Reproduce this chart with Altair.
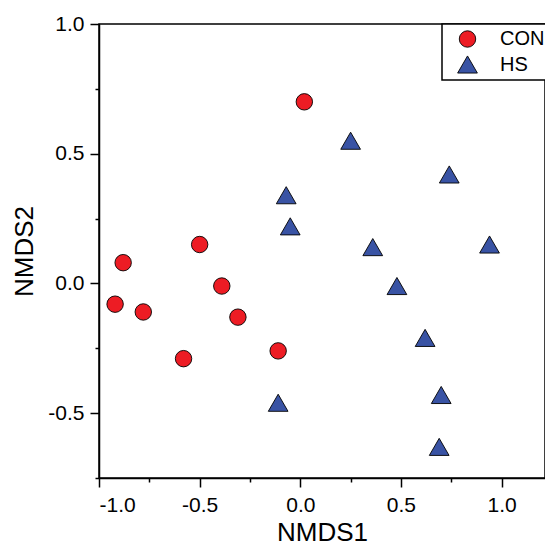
import altair as alt
import pandas as pd

con_x = [0.02, -0.88, -0.92, -0.78, -0.50, -0.39, -0.31, -0.58, -0.11]
con_y = [0.70, 0.08, -0.08, -0.11, 0.15, -0.01, -0.13, -0.29, -0.26]
hs_x = [0.25, 0.74, -0.07, -0.05, 0.36, 0.94, 0.48, 0.62, -0.11, 0.70, 0.69]
hs_y = [0.55, 0.42, 0.34, 0.22, 0.14, 0.15, -0.01, -0.21, -0.46, -0.43, -0.63]
groups = ["CON", "HS"]
colors = ["#ED1C24", "#3953A4"]
shapes = ["circle", "triangle-up"]
sizes = [270, 390]
x_ticks = [-1.0, -0.75, -0.5, -0.25, 0.0, 0.25, 0.5, 0.75, 1.0]
y_ticks = [-0.75, -0.5, -0.25, 0.0, 0.25, 0.5, 0.75, 1.0]

df = pd.DataFrame({
    "NMDS1": con_x + hs_x,
    "NMDS2": con_y + hs_y,
    "group": ["CON"] * len(con_x) + ["HS"] * len(hs_x),
})

FONT = "Liberation Sans"
label_expr = "datum.value % 0.5 === 0 ? (datum.value < 0 ? '-' : '') + format(abs(datum.value), '.1f') : ''"
tick_size = {"condition": {"test": "datum.value % 0.5 !== 0", "value": 4}, "value": 9}

common_axis = dict(
    grid=False, domainColor="black", domainWidth=1.5, tickColor="black", tickWidth=1.5,
    labelFont=FONT, labelFontSize=21, labelColor="black", titleFont=FONT,
    titleFontSize=26, titleFontWeight="normal", titleColor="black",
    labelExpr=label_expr, tickSize=tick_size,
)

chart = alt.Chart(df).mark_point(
    filled=True, opacity=1, stroke="black", strokeWidth=0.9
).encode(
    x=alt.X("NMDS1:Q", scale=alt.Scale(domain=[-1.0, 1.2156], nice=False, zero=False),
            axis=alt.Axis(values=x_ticks, labelPadding=7, titlePadding=4, **common_axis)),
    y=alt.Y("NMDS2:Q", scale=alt.Scale(domain=[-0.75, 1.0], nice=False, zero=False),
            axis=alt.Axis(values=y_ticks, labelPadding=6, titlePadding=10, **common_axis)),
    color=alt.Color("group:N", scale=alt.Scale(domain=groups, range=colors), title=None),
    shape=alt.Shape("group:N", scale=alt.Scale(domain=groups, range=shapes), title=None),
    size=alt.Size("group:N", scale=alt.Scale(domain=groups, range=sizes), title=None),
).properties(
    width=446, height=454,
    autosize=alt.AutoSizeParams(type="none"),
    padding={"left": 91, "top": 16, "right": 0, "bottom": 70},
).configure_view(
    stroke="black", strokeWidth=1.5
).configure_legend(
    orient="none", legendX=343, legendY=0, strokeColor="black", strokeWidth=1.5,
    fillColor="white", padding=5, labelFont=FONT, labelFontSize=20, labelColor="black",
    symbolStrokeColor="black", symbolStrokeWidth=0.9, symbolOffset=10, labelOffset=22,
    rowPadding=4, symbolType="circle",
)

chart.save("out.html", embed_options={"renderer": "svg", "actions": False})
